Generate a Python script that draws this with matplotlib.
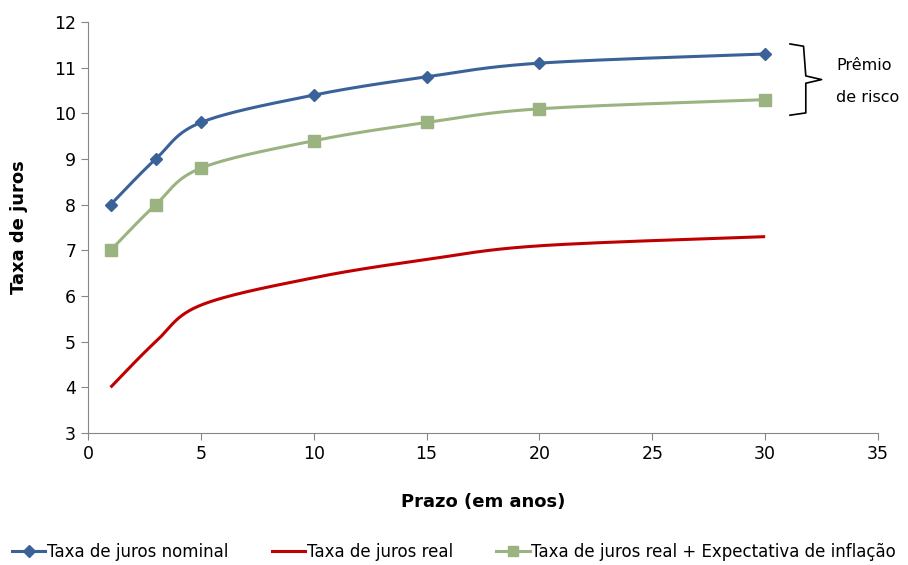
import numpy as np
import matplotlib
matplotlib.use("Agg")
import matplotlib.pyplot as plt
from matplotlib.lines import Line2D

prazo = [1, 3, 5, 10, 15, 20, 30]
nominal = [8, 9, 9.8, 10.4, 10.8, 11.1, 11.3]
real = [4, 5, 5.8, 6.4, 6.8, 7.1, 7.3]
real_inf = [7, 8, 8.8, 9.4, 9.8, 10.1, 10.3]
labels = ["Taxa de juros nominal", "Taxa de juros real",
          "Taxa de juros real + Expectativa de inflação"]

plt.rcParams['font.family'] = ['DejaVu Sans']


def smooth(x, y, n=30, t=0.5):
    x = np.asarray(x, float); y = np.asarray(y, float)
    P = np.column_stack([x, y])
    P = np.vstack([P[0], P, P[-1]])
    out = []
    for i in range(1, len(P) - 2):
        p0, p1, p2, p3 = P[i - 1], P[i], P[i + 1], P[i + 2]
        c1 = p1 + (p2 - p0) * t / 3
        c2 = p2 - (p3 - p1) * t / 3
        s = np.linspace(0, 1, n)[:, None]
        seg = (1 - s) ** 3 * p1 + 3 * (1 - s) ** 2 * s * c1 + 3 * (1 - s) * s ** 2 * c2 + s ** 3 * p2
        out.append(seg if i == 1 else seg[1:])
    a = np.vstack(out)
    return a[:, 0], a[:, 1]


fig = plt.figure(figsize=(9.08, 5.65), dpi=100)
ax = fig.add_axes([0.0969, 0.2336, 0.8701, 0.7274])

c_blue = "#3B6298"
c_red = "#C00000"
c_green = "#9BB380"

for ys, c, m, ms in [(nominal, c_blue, "D", 6), (real, c_red, None, 0), (real_inf, c_green, "s", 8)]:
    sx, sy = smooth(prazo, ys)
    ax.plot(sx, sy, color=c, lw=2.2, solid_capstyle="butt")
    if m:
        ax.plot(prazo, ys, ls="none", marker=m, ms=ms, color=c, mec=c)

ax.set_xlim(0, 35)
ax.set_ylim(3, 12)
ax.set_xticks(range(0, 36, 5))
ax.set_yticks(range(3, 13))
for s in ["top", "right"]:
    ax.spines[s].set_visible(False)
for s in ["left", "bottom"]:
    ax.spines[s].set_color("#868686")
ax.tick_params(direction="out", length=5, color="#868686", labelsize=12.5)
ax.set_xlabel("Prazo (em anos)", fontsize=13, fontweight="bold", labelpad=22)
ax.set_ylabel("Taxa de juros", fontsize=13, fontweight="bold", labelpad=19)

# brace annotation
xb = prazo[-1] + 1.15
top = nominal[-1] + 0.22
bot = real_inf[-1] - 0.34
mid = (top + bot) / 2
bx = [xb - 0.05, xb + 0.55, xb + 0.65, xb + 1.35, xb + 0.65, xb + 0.65, xb - 0.05]
by = [top, top - 0.05, mid + 0.08, mid, mid - 0.08, bot + 0.05, bot]
ax.plot(bx, by, color="black", lw=1.2, clip_on=False)
ax.text(xb + 2.0, mid + 0.3, "Prêmio", fontsize=11.5, va="center", ha="left")
ax.text(xb + 2.0, mid - 0.4, "de risco", fontsize=11.5, va="center", ha="left")

handles = [Line2D([], [], color=c_blue, marker="D", ms=6, lw=2.2),
           Line2D([], [], color=c_red, lw=2.2),
           Line2D([], [], color=c_green, marker="s", ms=7, lw=2.2)]
fig.legend(handles, labels, loc="lower center", bbox_to_anchor=(0.5, -0.02), ncol=3,
           frameon=False, fontsize=12, handlelength=2.0, handletextpad=0.1, columnspacing=2.6)

fig.savefig("out.png", dpi=100)
